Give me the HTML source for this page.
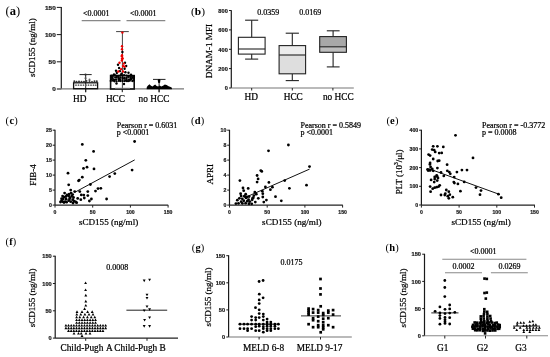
<!DOCTYPE html>
<html><head><meta charset="utf-8"><style>
html,body{margin:0;padding:0;background:#fff;}
svg{display:block;will-change:transform;}
</style></head><body>
<svg width="550" height="357" viewBox="0 0 550 357">
<rect width="550" height="357" fill="#fff"/>
<text x="5.60" y="15.22" font-family='"Liberation Serif", serif' font-size="12.5" letter-spacing="0">(<tspan font-weight="bold">a</tspan>)</text>
<line x1="61.30" y1="7.00" x2="61.30" y2="89.00" stroke="#1a1a1a" stroke-width="1.2"/>
<line x1="56.80" y1="7.40" x2="61.30" y2="7.40" stroke="#1a1a1a" stroke-width="1"/>
<text x="55.80" y="9.63" font-family='"Liberation Sans", sans-serif' font-size="6.2" font-weight="bold" text-anchor="end" fill="#1a1a1a" stroke="#1a1a1a" stroke-width="0.22" textLength="10.80" lengthAdjust="spacingAndGlyphs">150</text>
<line x1="56.80" y1="34.60" x2="61.30" y2="34.60" stroke="#1a1a1a" stroke-width="1"/>
<text x="55.80" y="36.83" font-family='"Liberation Sans", sans-serif' font-size="6.2" font-weight="bold" text-anchor="end" fill="#1a1a1a" stroke="#1a1a1a" stroke-width="0.22" textLength="10.80" lengthAdjust="spacingAndGlyphs">100</text>
<line x1="56.80" y1="61.80" x2="61.30" y2="61.80" stroke="#1a1a1a" stroke-width="1"/>
<text x="55.80" y="64.03" font-family='"Liberation Sans", sans-serif' font-size="6.2" font-weight="bold" text-anchor="end" fill="#1a1a1a" stroke="#1a1a1a" stroke-width="0.22" textLength="7.20" lengthAdjust="spacingAndGlyphs">50</text>
<line x1="56.80" y1="89.00" x2="61.30" y2="89.00" stroke="#1a1a1a" stroke-width="1"/>
<text x="55.80" y="91.23" font-family='"Liberation Sans", sans-serif' font-size="6.2" font-weight="bold" text-anchor="end" fill="#1a1a1a" stroke="#1a1a1a" stroke-width="0.22" textLength="3.60" lengthAdjust="spacingAndGlyphs">0</text>
<line x1="57.00" y1="88.90" x2="184.00" y2="88.90" stroke="#777" stroke-width="1.1"/>
<text transform="translate(32.30,47.70) rotate(-90)" x="0" y="0" font-family='"Liberation Serif", serif' font-size="9" text-anchor="middle" dominant-baseline="central" fill="#000" stroke="#000" stroke-width="0.22">sCD155 (ng/ml)</text>
<line x1="85.70" y1="89.00" x2="85.70" y2="92.20" stroke="#222" stroke-width="1"/>
<line x1="122.30" y1="89.00" x2="122.30" y2="92.20" stroke="#222" stroke-width="1"/>
<line x1="159.10" y1="89.00" x2="159.10" y2="92.20" stroke="#222" stroke-width="1"/>
<line x1="81.70" y1="20.60" x2="120.50" y2="20.60" stroke="#888" stroke-width="1.1"/>
<line x1="126.50" y1="20.60" x2="165.30" y2="20.60" stroke="#888" stroke-width="1.1"/>
<text x="83.10" y="16.20" font-family='"Liberation Serif", serif' font-size="8" font-weight="normal" text-anchor="start" fill="#000" stroke="#000" stroke-width="0.22" >&lt;0.0001</text>
<text x="130.10" y="16.20" font-family='"Liberation Serif", serif' font-size="8" font-weight="normal" text-anchor="start" fill="#000" stroke="#000" stroke-width="0.22" >&lt;0.0001</text>
<text x="73.00" y="102.00" font-family='"Liberation Serif", serif' font-size="9.3" font-weight="normal" text-anchor="start" fill="#000" stroke="#000" stroke-width="0.22" >HD</text>
<text x="105.90" y="102.00" font-family='"Liberation Serif", serif' font-size="9.3" font-weight="normal" text-anchor="start" fill="#000" stroke="#000" stroke-width="0.22" >HCC</text>
<text x="138.60" y="102.00" font-family='"Liberation Serif", serif' font-size="9.3" font-weight="normal" text-anchor="start" fill="#000" stroke="#000" stroke-width="0.22" >no HCC</text>
<text x="191.00" y="15.20" font-family='"Liberation Serif", serif' font-size="11.4" letter-spacing="0">(<tspan font-weight="bold">b</tspan>)</text>
<line x1="231.30" y1="10.30" x2="231.30" y2="88.00" stroke="#1a1a1a" stroke-width="1.2"/>
<line x1="229.00" y1="10.50" x2="231.30" y2="10.50" stroke="#1a1a1a" stroke-width="1"/>
<text x="227.80" y="12.73" font-family='"Liberation Sans", sans-serif' font-size="6.2" font-weight="bold" text-anchor="end" fill="#1a1a1a" stroke="#1a1a1a" stroke-width="0.22" textLength="9.45" lengthAdjust="spacingAndGlyphs">800</text>
<line x1="229.00" y1="29.90" x2="231.30" y2="29.90" stroke="#1a1a1a" stroke-width="1"/>
<text x="227.80" y="32.13" font-family='"Liberation Sans", sans-serif' font-size="6.2" font-weight="bold" text-anchor="end" fill="#1a1a1a" stroke="#1a1a1a" stroke-width="0.22" textLength="9.45" lengthAdjust="spacingAndGlyphs">600</text>
<line x1="229.00" y1="49.30" x2="231.30" y2="49.30" stroke="#1a1a1a" stroke-width="1"/>
<text x="227.80" y="51.53" font-family='"Liberation Sans", sans-serif' font-size="6.2" font-weight="bold" text-anchor="end" fill="#1a1a1a" stroke="#1a1a1a" stroke-width="0.22" textLength="9.45" lengthAdjust="spacingAndGlyphs">400</text>
<line x1="229.00" y1="68.60" x2="231.30" y2="68.60" stroke="#1a1a1a" stroke-width="1"/>
<text x="227.80" y="70.83" font-family='"Liberation Sans", sans-serif' font-size="6.2" font-weight="bold" text-anchor="end" fill="#1a1a1a" stroke="#1a1a1a" stroke-width="0.22" textLength="9.45" lengthAdjust="spacingAndGlyphs">200</text>
<line x1="229.00" y1="88.00" x2="231.30" y2="88.00" stroke="#1a1a1a" stroke-width="1"/>
<text x="227.80" y="90.23" font-family='"Liberation Sans", sans-serif' font-size="6.2" font-weight="bold" text-anchor="end" fill="#1a1a1a" stroke="#1a1a1a" stroke-width="0.22" textLength="3.15" lengthAdjust="spacingAndGlyphs">0</text>
<line x1="231.30" y1="88.00" x2="353.80" y2="88.00" stroke="#777" stroke-width="1.1"/>
<text transform="translate(209.20,51.00) rotate(-90)" x="0" y="0" font-family='"Liberation Serif", serif' font-size="9.2" text-anchor="middle" dominant-baseline="central" fill="#000" stroke="#000" stroke-width="0.22">DNAM-1 MFI</text>
<line x1="251.70" y1="88.00" x2="251.70" y2="90.50" stroke="#222" stroke-width="1"/>
<line x1="292.30" y1="88.00" x2="292.30" y2="90.50" stroke="#222" stroke-width="1"/>
<line x1="332.90" y1="88.00" x2="332.90" y2="90.50" stroke="#222" stroke-width="1"/>
<text x="257.20" y="15.20" font-family='"Liberation Serif", serif' font-size="8" font-weight="normal" text-anchor="start" fill="#000" stroke="#000" stroke-width="0.22" >0.0359</text>
<text x="299.30" y="15.20" font-family='"Liberation Serif", serif' font-size="8" font-weight="normal" text-anchor="start" fill="#000" stroke="#000" stroke-width="0.22" >0.0169</text>
<text x="244.50" y="99.50" font-family='"Liberation Serif", serif' font-size="9.3" font-weight="normal" text-anchor="start" fill="#000" stroke="#000" stroke-width="0.22" >HD</text>
<text x="283.70" y="99.50" font-family='"Liberation Serif", serif' font-size="9.3" font-weight="normal" text-anchor="start" fill="#000" stroke="#000" stroke-width="0.22" >HCC</text>
<text x="322.90" y="99.50" font-family='"Liberation Serif", serif' font-size="9.3" font-weight="normal" text-anchor="start" fill="#000" stroke="#000" stroke-width="0.22" >no HCC</text>
<text x="5.60" y="123.62" font-family='"Liberation Serif", serif' font-size="10.5" letter-spacing="0.3">(<tspan font-weight="bold">c</tspan>)</text>
<line x1="55.00" y1="129.80" x2="55.00" y2="205.10" stroke="#1a1a1a" stroke-width="1.2"/>
<line x1="52.70" y1="130.20" x2="55.00" y2="130.20" stroke="#1a1a1a" stroke-width="1"/>
<text x="51.80" y="132.18" font-family='"Liberation Sans", sans-serif' font-size="5.5" font-weight="bold" text-anchor="end" fill="#1a1a1a" stroke="#1a1a1a" stroke-width="0.22" textLength="5.80" lengthAdjust="spacingAndGlyphs">25</text>
<line x1="52.70" y1="145.20" x2="55.00" y2="145.20" stroke="#1a1a1a" stroke-width="1"/>
<text x="51.80" y="147.18" font-family='"Liberation Sans", sans-serif' font-size="5.5" font-weight="bold" text-anchor="end" fill="#1a1a1a" stroke="#1a1a1a" stroke-width="0.22" textLength="5.80" lengthAdjust="spacingAndGlyphs">20</text>
<line x1="52.70" y1="160.10" x2="55.00" y2="160.10" stroke="#1a1a1a" stroke-width="1"/>
<text x="51.80" y="162.08" font-family='"Liberation Sans", sans-serif' font-size="5.5" font-weight="bold" text-anchor="end" fill="#1a1a1a" stroke="#1a1a1a" stroke-width="0.22" textLength="5.80" lengthAdjust="spacingAndGlyphs">15</text>
<line x1="52.70" y1="175.10" x2="55.00" y2="175.10" stroke="#1a1a1a" stroke-width="1"/>
<text x="51.80" y="177.08" font-family='"Liberation Sans", sans-serif' font-size="5.5" font-weight="bold" text-anchor="end" fill="#1a1a1a" stroke="#1a1a1a" stroke-width="0.22" textLength="5.80" lengthAdjust="spacingAndGlyphs">10</text>
<line x1="52.70" y1="190.10" x2="55.00" y2="190.10" stroke="#1a1a1a" stroke-width="1"/>
<text x="51.80" y="192.08" font-family='"Liberation Sans", sans-serif' font-size="5.5" font-weight="bold" text-anchor="end" fill="#1a1a1a" stroke="#1a1a1a" stroke-width="0.22" textLength="2.90" lengthAdjust="spacingAndGlyphs">5</text>
<line x1="52.70" y1="205.10" x2="55.00" y2="205.10" stroke="#1a1a1a" stroke-width="1"/>
<text x="51.80" y="207.08" font-family='"Liberation Sans", sans-serif' font-size="5.5" font-weight="bold" text-anchor="end" fill="#1a1a1a" stroke="#1a1a1a" stroke-width="0.22" textLength="2.90" lengthAdjust="spacingAndGlyphs">0</text>
<line x1="55.00" y1="205.10" x2="168.20" y2="205.10" stroke="#222" stroke-width="1.2"/>
<text transform="translate(33.30,175.00) rotate(-90)" x="0" y="0" font-family='"Liberation Serif", serif' font-size="9" text-anchor="middle" dominant-baseline="central" fill="#000" stroke="#000" stroke-width="0.22">FIB-4</text>
<text x="78.90" y="225.30" font-family='"Liberation Serif", serif' font-size="9.1" font-weight="normal" text-anchor="start" fill="#000" stroke="#000" stroke-width="0.22" >sCD155 (ng/ml)</text>
<text x="116.80" y="128.00" font-family='"Liberation Serif", serif' font-size="8" font-weight="normal" text-anchor="start" fill="#000" stroke="#000" stroke-width="0.22" >Pearson r = 0.6031</text>
<text x="116.80" y="135.00" font-family='"Liberation Serif", serif' font-size="8" font-weight="normal" text-anchor="start" fill="#000" stroke="#000" stroke-width="0.22" >p &lt;0.0001</text>
<text x="190.90" y="123.62" font-family='"Liberation Serif", serif' font-size="10.5" letter-spacing="0.3">(<tspan font-weight="bold">d</tspan>)</text>
<line x1="229.50" y1="129.80" x2="229.50" y2="205.10" stroke="#1a1a1a" stroke-width="1.2"/>
<line x1="227.20" y1="130.20" x2="229.50" y2="130.20" stroke="#1a1a1a" stroke-width="1"/>
<text x="226.30" y="132.18" font-family='"Liberation Sans", sans-serif' font-size="5.5" font-weight="bold" text-anchor="end" fill="#1a1a1a" stroke="#1a1a1a" stroke-width="0.22" textLength="5.80" lengthAdjust="spacingAndGlyphs">10</text>
<line x1="227.20" y1="145.20" x2="229.50" y2="145.20" stroke="#1a1a1a" stroke-width="1"/>
<text x="226.30" y="147.18" font-family='"Liberation Sans", sans-serif' font-size="5.5" font-weight="bold" text-anchor="end" fill="#1a1a1a" stroke="#1a1a1a" stroke-width="0.22" textLength="2.90" lengthAdjust="spacingAndGlyphs">8</text>
<line x1="227.20" y1="160.10" x2="229.50" y2="160.10" stroke="#1a1a1a" stroke-width="1"/>
<text x="226.30" y="162.08" font-family='"Liberation Sans", sans-serif' font-size="5.5" font-weight="bold" text-anchor="end" fill="#1a1a1a" stroke="#1a1a1a" stroke-width="0.22" textLength="2.90" lengthAdjust="spacingAndGlyphs">6</text>
<line x1="227.20" y1="175.10" x2="229.50" y2="175.10" stroke="#1a1a1a" stroke-width="1"/>
<text x="226.30" y="177.08" font-family='"Liberation Sans", sans-serif' font-size="5.5" font-weight="bold" text-anchor="end" fill="#1a1a1a" stroke="#1a1a1a" stroke-width="0.22" textLength="2.90" lengthAdjust="spacingAndGlyphs">4</text>
<line x1="227.20" y1="190.10" x2="229.50" y2="190.10" stroke="#1a1a1a" stroke-width="1"/>
<text x="226.30" y="192.08" font-family='"Liberation Sans", sans-serif' font-size="5.5" font-weight="bold" text-anchor="end" fill="#1a1a1a" stroke="#1a1a1a" stroke-width="0.22" textLength="2.90" lengthAdjust="spacingAndGlyphs">2</text>
<line x1="227.20" y1="205.10" x2="229.50" y2="205.10" stroke="#1a1a1a" stroke-width="1"/>
<text x="226.30" y="207.08" font-family='"Liberation Sans", sans-serif' font-size="5.5" font-weight="bold" text-anchor="end" fill="#1a1a1a" stroke="#1a1a1a" stroke-width="0.22" textLength="2.90" lengthAdjust="spacingAndGlyphs">0</text>
<line x1="229.50" y1="205.10" x2="342.80" y2="205.10" stroke="#222" stroke-width="1.2"/>
<text transform="translate(210.30,174.20) rotate(-90)" x="0" y="0" font-family='"Liberation Serif", serif' font-size="9" text-anchor="middle" dominant-baseline="central" fill="#000" stroke="#000" stroke-width="0.22">APRI</text>
<text x="262.10" y="225.30" font-family='"Liberation Serif", serif' font-size="9.1" font-weight="normal" text-anchor="start" fill="#000" stroke="#000" stroke-width="0.22" >sCD155 (ng/ml)</text>
<text x="300.50" y="128.00" font-family='"Liberation Serif", serif' font-size="8" font-weight="normal" text-anchor="start" fill="#000" stroke="#000" stroke-width="0.22" >Pearson r = 0.5849</text>
<text x="300.50" y="135.00" font-family='"Liberation Serif", serif' font-size="8" font-weight="normal" text-anchor="start" fill="#000" stroke="#000" stroke-width="0.22" >p &lt;0.0001</text>
<text x="386.40" y="123.53" font-family='"Liberation Serif", serif' font-size="10.5" letter-spacing="0.2">(<tspan font-weight="bold">e</tspan>)</text>
<line x1="421.40" y1="129.80" x2="421.40" y2="205.10" stroke="#1a1a1a" stroke-width="1.2"/>
<line x1="419.10" y1="130.20" x2="421.40" y2="130.20" stroke="#1a1a1a" stroke-width="1"/>
<text x="418.20" y="132.18" font-family='"Liberation Sans", sans-serif' font-size="5.5" font-weight="bold" text-anchor="end" fill="#1a1a1a" stroke="#1a1a1a" stroke-width="0.22" textLength="8.70" lengthAdjust="spacingAndGlyphs">400</text>
<line x1="419.10" y1="148.90" x2="421.40" y2="148.90" stroke="#1a1a1a" stroke-width="1"/>
<text x="418.20" y="150.88" font-family='"Liberation Sans", sans-serif' font-size="5.5" font-weight="bold" text-anchor="end" fill="#1a1a1a" stroke="#1a1a1a" stroke-width="0.22" textLength="8.70" lengthAdjust="spacingAndGlyphs">300</text>
<line x1="419.10" y1="167.60" x2="421.40" y2="167.60" stroke="#1a1a1a" stroke-width="1"/>
<text x="418.20" y="169.58" font-family='"Liberation Sans", sans-serif' font-size="5.5" font-weight="bold" text-anchor="end" fill="#1a1a1a" stroke="#1a1a1a" stroke-width="0.22" textLength="8.70" lengthAdjust="spacingAndGlyphs">200</text>
<line x1="419.10" y1="186.30" x2="421.40" y2="186.30" stroke="#1a1a1a" stroke-width="1"/>
<text x="418.20" y="188.28" font-family='"Liberation Sans", sans-serif' font-size="5.5" font-weight="bold" text-anchor="end" fill="#1a1a1a" stroke="#1a1a1a" stroke-width="0.22" textLength="8.70" lengthAdjust="spacingAndGlyphs">100</text>
<line x1="419.10" y1="205.00" x2="421.40" y2="205.00" stroke="#1a1a1a" stroke-width="1"/>
<text x="418.20" y="206.98" font-family='"Liberation Sans", sans-serif' font-size="5.5" font-weight="bold" text-anchor="end" fill="#1a1a1a" stroke="#1a1a1a" stroke-width="0.22" textLength="2.90" lengthAdjust="spacingAndGlyphs">0</text>
<line x1="421.40" y1="205.10" x2="534.90" y2="205.10" stroke="#222" stroke-width="1.2"/>
<text transform="translate(399.4,171.8) rotate(-90)" x="0" y="0" font-family='"Liberation Serif", serif' font-size="9" text-anchor="middle" dominant-baseline="central" stroke="#000" stroke-width="0.22">PLT (10<tspan font-size="5.5" dy="-3">3</tspan><tspan dy="3">/μl)</tspan></text>
<text x="451.50" y="225.30" font-family='"Liberation Serif", serif' font-size="9.1" font-weight="normal" text-anchor="start" fill="#000" stroke="#000" stroke-width="0.22" >sCD155 (ng/ml)</text>
<text x="482.00" y="128.00" font-family='"Liberation Serif", serif' font-size="8" font-weight="normal" text-anchor="start" fill="#000" stroke="#000" stroke-width="0.22" >Pearson r = -0.3772</text>
<text x="482.00" y="135.00" font-family='"Liberation Serif", serif' font-size="8" font-weight="normal" text-anchor="start" fill="#000" stroke="#000" stroke-width="0.22" >p = 0.0008</text>
<line x1="55.00" y1="205.10" x2="55.00" y2="207.60" stroke="#222" stroke-width="1"/>
<text x="55.00" y="213.50" font-family='"Liberation Sans", sans-serif' font-size="5.5" font-weight="bold" text-anchor="middle" fill="#1a1a1a" stroke="#1a1a1a" stroke-width="0.22" textLength="2.85" lengthAdjust="spacingAndGlyphs">0</text>
<line x1="92.70" y1="205.10" x2="92.70" y2="207.60" stroke="#222" stroke-width="1"/>
<text x="92.70" y="213.50" font-family='"Liberation Sans", sans-serif' font-size="5.5" font-weight="bold" text-anchor="middle" fill="#1a1a1a" stroke="#1a1a1a" stroke-width="0.22" textLength="5.70" lengthAdjust="spacingAndGlyphs">50</text>
<line x1="130.40" y1="205.10" x2="130.40" y2="207.60" stroke="#222" stroke-width="1"/>
<text x="130.40" y="213.50" font-family='"Liberation Sans", sans-serif' font-size="5.5" font-weight="bold" text-anchor="middle" fill="#1a1a1a" stroke="#1a1a1a" stroke-width="0.22" textLength="8.55" lengthAdjust="spacingAndGlyphs">100</text>
<line x1="168.10" y1="205.10" x2="168.10" y2="207.60" stroke="#222" stroke-width="1"/>
<text x="168.10" y="213.50" font-family='"Liberation Sans", sans-serif' font-size="5.5" font-weight="bold" text-anchor="middle" fill="#1a1a1a" stroke="#1a1a1a" stroke-width="0.22" textLength="8.55" lengthAdjust="spacingAndGlyphs">150</text>
<line x1="229.50" y1="205.10" x2="229.50" y2="207.60" stroke="#222" stroke-width="1"/>
<text x="229.50" y="213.50" font-family='"Liberation Sans", sans-serif' font-size="5.5" font-weight="bold" text-anchor="middle" fill="#1a1a1a" stroke="#1a1a1a" stroke-width="0.22" textLength="2.85" lengthAdjust="spacingAndGlyphs">0</text>
<line x1="267.20" y1="205.10" x2="267.20" y2="207.60" stroke="#222" stroke-width="1"/>
<text x="267.20" y="213.50" font-family='"Liberation Sans", sans-serif' font-size="5.5" font-weight="bold" text-anchor="middle" fill="#1a1a1a" stroke="#1a1a1a" stroke-width="0.22" textLength="5.70" lengthAdjust="spacingAndGlyphs">50</text>
<line x1="304.90" y1="205.10" x2="304.90" y2="207.60" stroke="#222" stroke-width="1"/>
<text x="304.90" y="213.50" font-family='"Liberation Sans", sans-serif' font-size="5.5" font-weight="bold" text-anchor="middle" fill="#1a1a1a" stroke="#1a1a1a" stroke-width="0.22" textLength="8.55" lengthAdjust="spacingAndGlyphs">100</text>
<line x1="342.60" y1="205.10" x2="342.60" y2="207.60" stroke="#222" stroke-width="1"/>
<text x="342.60" y="213.50" font-family='"Liberation Sans", sans-serif' font-size="5.5" font-weight="bold" text-anchor="middle" fill="#1a1a1a" stroke="#1a1a1a" stroke-width="0.22" textLength="8.55" lengthAdjust="spacingAndGlyphs">150</text>
<line x1="421.40" y1="205.10" x2="421.40" y2="207.60" stroke="#222" stroke-width="1"/>
<text x="421.40" y="213.50" font-family='"Liberation Sans", sans-serif' font-size="5.5" font-weight="bold" text-anchor="middle" fill="#1a1a1a" stroke="#1a1a1a" stroke-width="0.22" textLength="2.85" lengthAdjust="spacingAndGlyphs">0</text>
<line x1="459.10" y1="205.10" x2="459.10" y2="207.60" stroke="#222" stroke-width="1"/>
<text x="459.10" y="213.50" font-family='"Liberation Sans", sans-serif' font-size="5.5" font-weight="bold" text-anchor="middle" fill="#1a1a1a" stroke="#1a1a1a" stroke-width="0.22" textLength="5.70" lengthAdjust="spacingAndGlyphs">50</text>
<line x1="496.80" y1="205.10" x2="496.80" y2="207.60" stroke="#222" stroke-width="1"/>
<text x="496.80" y="213.50" font-family='"Liberation Sans", sans-serif' font-size="5.5" font-weight="bold" text-anchor="middle" fill="#1a1a1a" stroke="#1a1a1a" stroke-width="0.22" textLength="8.55" lengthAdjust="spacingAndGlyphs">100</text>
<line x1="534.50" y1="205.10" x2="534.50" y2="207.60" stroke="#222" stroke-width="1"/>
<text x="534.50" y="213.50" font-family='"Liberation Sans", sans-serif' font-size="5.5" font-weight="bold" text-anchor="middle" fill="#1a1a1a" stroke="#1a1a1a" stroke-width="0.22" textLength="8.55" lengthAdjust="spacingAndGlyphs">150</text>
<text x="5.60" y="245.07" font-family='"Liberation Serif", serif' font-size="10.3" letter-spacing="0.1">(<tspan font-weight="bold">f</tspan>)</text>
<line x1="55.20" y1="255.80" x2="55.20" y2="338.20" stroke="#1a1a1a" stroke-width="1.2"/>
<line x1="52.90" y1="256.20" x2="55.20" y2="256.20" stroke="#1a1a1a" stroke-width="1"/>
<text x="51.70" y="258.43" font-family='"Liberation Sans", sans-serif' font-size="6.2" font-weight="bold" text-anchor="end" fill="#1a1a1a" stroke="#1a1a1a" stroke-width="0.22" textLength="9.45" lengthAdjust="spacingAndGlyphs">150</text>
<line x1="52.90" y1="283.50" x2="55.20" y2="283.50" stroke="#1a1a1a" stroke-width="1"/>
<text x="51.70" y="285.73" font-family='"Liberation Sans", sans-serif' font-size="6.2" font-weight="bold" text-anchor="end" fill="#1a1a1a" stroke="#1a1a1a" stroke-width="0.22" textLength="9.45" lengthAdjust="spacingAndGlyphs">100</text>
<line x1="52.90" y1="310.80" x2="55.20" y2="310.80" stroke="#1a1a1a" stroke-width="1"/>
<text x="51.70" y="313.03" font-family='"Liberation Sans", sans-serif' font-size="6.2" font-weight="bold" text-anchor="end" fill="#1a1a1a" stroke="#1a1a1a" stroke-width="0.22" textLength="6.30" lengthAdjust="spacingAndGlyphs">50</text>
<line x1="52.90" y1="338.10" x2="55.20" y2="338.10" stroke="#1a1a1a" stroke-width="1"/>
<text x="51.70" y="340.33" font-family='"Liberation Sans", sans-serif' font-size="6.2" font-weight="bold" text-anchor="end" fill="#1a1a1a" stroke="#1a1a1a" stroke-width="0.22" textLength="3.15" lengthAdjust="spacingAndGlyphs">0</text>
<line x1="55.20" y1="338.20" x2="178.00" y2="338.20" stroke="#222" stroke-width="1.2"/>
<text transform="translate(32.30,297.80) rotate(-90)" x="0" y="0" font-family='"Liberation Serif", serif' font-size="9" text-anchor="middle" dominant-baseline="central" fill="#000" stroke="#000" stroke-width="0.22">sCD155 (ng/ml)</text>
<line x1="85.70" y1="338.10" x2="85.70" y2="340.80" stroke="#222" stroke-width="1"/>
<line x1="147.00" y1="338.10" x2="147.00" y2="340.80" stroke="#222" stroke-width="1"/>
<text x="106.20" y="269.80" font-family='"Liberation Serif", serif' font-size="8" font-weight="normal" text-anchor="start" fill="#000" stroke="#000" stroke-width="0.22" >0.0008</text>
<text x="60.50" y="351.00" font-family='"Liberation Serif", serif' font-size="9.3" font-weight="normal" text-anchor="start" fill="#000" stroke="#000" stroke-width="0.22" >Child-Pugh</text>
<text x="106.00" y="351.00" font-family='"Liberation Serif", serif' font-size="9.3" font-weight="normal" text-anchor="start" fill="#000" stroke="#000" stroke-width="0.22" >A</text>
<text x="114.30" y="351.00" font-family='"Liberation Serif", serif' font-size="9.3" font-weight="normal" text-anchor="start" fill="#000" stroke="#000" stroke-width="0.22" >Child-Pugh B</text>
<line x1="126.40" y1="310.20" x2="167.20" y2="310.20" stroke="#222" stroke-width="1"/>
<text x="191.70" y="251.12" font-family='"Liberation Serif", serif' font-size="10.5" letter-spacing="0.2">(<tspan font-weight="bold">g</tspan>)</text>
<line x1="228.60" y1="255.30" x2="228.60" y2="337.00" stroke="#1a1a1a" stroke-width="1.2"/>
<line x1="226.30" y1="255.70" x2="228.60" y2="255.70" stroke="#1a1a1a" stroke-width="1"/>
<text x="225.10" y="257.93" font-family='"Liberation Sans", sans-serif' font-size="6.2" font-weight="bold" text-anchor="end" fill="#1a1a1a" stroke="#1a1a1a" stroke-width="0.22" textLength="9.45" lengthAdjust="spacingAndGlyphs">150</text>
<line x1="226.30" y1="282.80" x2="228.60" y2="282.80" stroke="#1a1a1a" stroke-width="1"/>
<text x="225.10" y="285.03" font-family='"Liberation Sans", sans-serif' font-size="6.2" font-weight="bold" text-anchor="end" fill="#1a1a1a" stroke="#1a1a1a" stroke-width="0.22" textLength="9.45" lengthAdjust="spacingAndGlyphs">100</text>
<line x1="226.30" y1="309.90" x2="228.60" y2="309.90" stroke="#1a1a1a" stroke-width="1"/>
<text x="225.10" y="312.13" font-family='"Liberation Sans", sans-serif' font-size="6.2" font-weight="bold" text-anchor="end" fill="#1a1a1a" stroke="#1a1a1a" stroke-width="0.22" textLength="6.30" lengthAdjust="spacingAndGlyphs">50</text>
<line x1="226.30" y1="337.00" x2="228.60" y2="337.00" stroke="#1a1a1a" stroke-width="1"/>
<text x="225.10" y="339.23" font-family='"Liberation Sans", sans-serif' font-size="6.2" font-weight="bold" text-anchor="end" fill="#1a1a1a" stroke="#1a1a1a" stroke-width="0.22" textLength="3.15" lengthAdjust="spacingAndGlyphs">0</text>
<line x1="228.60" y1="337.00" x2="351.80" y2="337.00" stroke="#777" stroke-width="1.1"/>
<text transform="translate(208.30,297.00) rotate(-90)" x="0" y="0" font-family='"Liberation Serif", serif' font-size="9" text-anchor="middle" dominant-baseline="central" fill="#000" stroke="#000" stroke-width="0.22">sCD155 (ng/ml)</text>
<line x1="259.10" y1="337.00" x2="259.10" y2="339.50" stroke="#222" stroke-width="1"/>
<line x1="320.50" y1="337.00" x2="320.50" y2="339.50" stroke="#222" stroke-width="1"/>
<text x="280.50" y="265.40" font-family='"Liberation Serif", serif' font-size="8" font-weight="normal" text-anchor="start" fill="#000" stroke="#000" stroke-width="0.22" >0.0175</text>
<text x="243.00" y="351.00" font-family='"Liberation Serif", serif' font-size="9.3" font-weight="normal" text-anchor="start" fill="#000" stroke="#000" stroke-width="0.22" >MELD 6-8</text>
<text x="296.70" y="351.00" font-family='"Liberation Serif", serif' font-size="9.3" font-weight="normal" text-anchor="start" fill="#000" stroke="#000" stroke-width="0.22" >MELD 9-17</text>
<line x1="238.50" y1="324.10" x2="278.90" y2="324.10" stroke="#222" stroke-width="1"/>
<line x1="301.00" y1="315.90" x2="341.00" y2="315.90" stroke="#333" stroke-width="1"/>
<text x="385.60" y="251.22" font-family='"Liberation Serif", serif' font-size="10.5" letter-spacing="0.1">(<tspan font-weight="bold">h</tspan>)</text>
<line x1="424.50" y1="253.80" x2="424.50" y2="335.90" stroke="#1a1a1a" stroke-width="1.2"/>
<line x1="422.20" y1="254.20" x2="424.50" y2="254.20" stroke="#1a1a1a" stroke-width="1"/>
<text x="421.00" y="256.43" font-family='"Liberation Sans", sans-serif' font-size="6.2" font-weight="bold" text-anchor="end" fill="#1a1a1a" stroke="#1a1a1a" stroke-width="0.22" textLength="9.45" lengthAdjust="spacingAndGlyphs">150</text>
<line x1="422.20" y1="281.40" x2="424.50" y2="281.40" stroke="#1a1a1a" stroke-width="1"/>
<text x="421.00" y="283.63" font-family='"Liberation Sans", sans-serif' font-size="6.2" font-weight="bold" text-anchor="end" fill="#1a1a1a" stroke="#1a1a1a" stroke-width="0.22" textLength="9.45" lengthAdjust="spacingAndGlyphs">100</text>
<line x1="422.20" y1="308.60" x2="424.50" y2="308.60" stroke="#1a1a1a" stroke-width="1"/>
<text x="421.00" y="310.83" font-family='"Liberation Sans", sans-serif' font-size="6.2" font-weight="bold" text-anchor="end" fill="#1a1a1a" stroke="#1a1a1a" stroke-width="0.22" textLength="6.30" lengthAdjust="spacingAndGlyphs">50</text>
<line x1="422.20" y1="335.80" x2="424.50" y2="335.80" stroke="#1a1a1a" stroke-width="1"/>
<text x="421.00" y="338.03" font-family='"Liberation Sans", sans-serif' font-size="6.2" font-weight="bold" text-anchor="end" fill="#1a1a1a" stroke="#1a1a1a" stroke-width="0.22" textLength="3.15" lengthAdjust="spacingAndGlyphs">0</text>
<line x1="424.50" y1="335.70" x2="548.00" y2="335.70" stroke="#888" stroke-width="1.1"/>
<text transform="translate(402.80,298.00) rotate(-90)" x="0" y="0" font-family='"Liberation Serif", serif' font-size="9" text-anchor="middle" dominant-baseline="central" fill="#000" stroke="#000" stroke-width="0.22">sCD155 (ng/ml)</text>
<line x1="444.80" y1="335.70" x2="444.80" y2="338.50" stroke="#222" stroke-width="1"/>
<line x1="485.50" y1="335.70" x2="485.50" y2="338.50" stroke="#222" stroke-width="1"/>
<line x1="526.80" y1="335.70" x2="526.80" y2="338.50" stroke="#222" stroke-width="1"/>
<text x="469.90" y="254.00" font-family='"Liberation Serif", serif' font-size="8" font-weight="normal" text-anchor="start" fill="#000" stroke="#000" stroke-width="0.22" >&lt;0.0001</text>
<line x1="442.30" y1="259.30" x2="526.40" y2="259.30" stroke="#888" stroke-width="1.1"/>
<text x="452.50" y="269.10" font-family='"Liberation Serif", serif' font-size="8" font-weight="normal" text-anchor="start" fill="#000" stroke="#000" stroke-width="0.22" >0.0002</text>
<text x="498.50" y="269.10" font-family='"Liberation Serif", serif' font-size="8" font-weight="normal" text-anchor="start" fill="#000" stroke="#000" stroke-width="0.22" >0.0269</text>
<line x1="445.00" y1="272.80" x2="482.00" y2="272.80" stroke="#888" stroke-width="1.1"/>
<line x1="490.90" y1="272.80" x2="527.80" y2="272.80" stroke="#888" stroke-width="1.1"/>
<text x="437.10" y="351.00" font-family='"Liberation Serif", serif' font-size="9.3" font-weight="normal" text-anchor="start" fill="#000" stroke="#000" stroke-width="0.22" >G1</text>
<text x="476.80" y="351.00" font-family='"Liberation Serif", serif' font-size="9.3" font-weight="normal" text-anchor="start" fill="#000" stroke="#000" stroke-width="0.22" >G2</text>
<text x="515.30" y="351.00" font-family='"Liberation Serif", serif' font-size="9.3" font-weight="normal" text-anchor="start" fill="#000" stroke="#000" stroke-width="0.22" >G3</text>
<line x1="431.30" y1="312.90" x2="458.50" y2="312.90" stroke="#222" stroke-width="1"/>
<line x1="513.00" y1="326.10" x2="540.00" y2="326.10" stroke="#222" stroke-width="1"/>
<line x1="85.70" y1="74.60" x2="85.70" y2="92.20" stroke="#222" stroke-width="1"/>
<line x1="79.50" y1="74.60" x2="91.70" y2="74.60" stroke="#222" stroke-width="1"/>
<rect x="73.60" y="82.80" width="24.00" height="5.90" stroke="#111" fill="none" stroke-width="1.3"/>
<circle cx="74.30" cy="81.29" r="1.0" fill="#333"/>
<circle cx="76.50" cy="81.65" r="1.0" fill="#333"/>
<circle cx="79.00" cy="81.44" r="1.0" fill="#333"/>
<circle cx="81.50" cy="81.72" r="1.0" fill="#333"/>
<circle cx="84.00" cy="81.75" r="1.0" fill="#333"/>
<circle cx="86.50" cy="81.08" r="1.0" fill="#333"/>
<circle cx="89.50" cy="81.02" r="1.0" fill="#333"/>
<circle cx="92.00" cy="82.00" r="1.0" fill="#333"/>
<circle cx="94.50" cy="81.31" r="1.0" fill="#333"/>
<circle cx="96.80" cy="81.28" r="1.0" fill="#333"/>
<circle cx="76.00" cy="85.20" r="0.9" fill="#666"/>
<circle cx="78.50" cy="85.20" r="0.9" fill="#666"/>
<circle cx="81.00" cy="85.20" r="0.9" fill="#666"/>
<circle cx="83.50" cy="85.20" r="0.9" fill="#666"/>
<circle cx="86.00" cy="85.20" r="0.9" fill="#666"/>
<circle cx="88.50" cy="85.20" r="0.9" fill="#666"/>
<circle cx="91.00" cy="85.20" r="0.9" fill="#666"/>
<circle cx="93.50" cy="85.20" r="0.9" fill="#666"/>
<circle cx="95.80" cy="85.20" r="0.9" fill="#666"/>
<circle cx="85.50" cy="78.20" r="1.0" fill="#555"/>
<circle cx="85.50" cy="74.60" r="1.1" fill="#333"/>
<circle cx="89.50" cy="79.60" r="1.0" fill="#666"/>
<line x1="122.40" y1="31.60" x2="122.40" y2="91.50" stroke="#444" stroke-width="1"/>
<line x1="116.10" y1="31.60" x2="128.80" y2="31.60" stroke="#444" stroke-width="1"/>
<rect x="110.60" y="75.60" width="23.60" height="13.40" stroke="#111" fill="none" stroke-width="1.6"/>
<line x1="115.00" y1="88.20" x2="130.00" y2="88.20" stroke="#999" stroke-width="0.8"/>
<circle cx="122.40" cy="52.00" r="1.2" fill="#000"/>
<circle cx="125.00" cy="62.80" r="1.2" fill="#000"/>
<circle cx="118.00" cy="64.80" r="1.2" fill="#000"/>
<circle cx="126.20" cy="66.00" r="1.2" fill="#000"/>
<circle cx="119.10" cy="68.00" r="1.2" fill="#000"/>
<circle cx="124.60" cy="68.70" r="1.2" fill="#000"/>
<circle cx="116.00" cy="70.70" r="1.2" fill="#000"/>
<circle cx="119.90" cy="71.10" r="1.2" fill="#000"/>
<circle cx="128.50" cy="72.70" r="1.2" fill="#000"/>
<circle cx="116.80" cy="73.00" r="1.2" fill="#000"/>
<circle cx="125.40" cy="72.30" r="1.2" fill="#000"/>
<circle cx="121.50" cy="73.80" r="1.2" fill="#000"/>
<circle cx="114.00" cy="74.50" r="1.2" fill="#000"/>
<circle cx="131.00" cy="74.80" r="1.2" fill="#000"/>
<circle cx="111.40" cy="75.57" r="1.15" fill="#000"/>
<circle cx="113.17" cy="75.58" r="1.15" fill="#000"/>
<circle cx="114.91" cy="75.25" r="1.15" fill="#000"/>
<circle cx="116.81" cy="75.97" r="1.15" fill="#000"/>
<circle cx="118.62" cy="75.84" r="1.15" fill="#000"/>
<circle cx="120.64" cy="75.16" r="1.15" fill="#000"/>
<circle cx="122.61" cy="75.69" r="1.15" fill="#000"/>
<circle cx="124.14" cy="75.13" r="1.15" fill="#000"/>
<circle cx="126.49" cy="75.57" r="1.15" fill="#000"/>
<circle cx="128.28" cy="75.98" r="1.15" fill="#000"/>
<circle cx="130.17" cy="76.02" r="1.15" fill="#000"/>
<circle cx="131.82" cy="75.90" r="1.15" fill="#000"/>
<circle cx="133.76" cy="76.04" r="1.15" fill="#000"/>
<circle cx="111.30" cy="77.00" r="1.15" fill="#000"/>
<circle cx="112.61" cy="77.12" r="1.15" fill="#000"/>
<circle cx="115.17" cy="77.34" r="1.15" fill="#000"/>
<circle cx="116.80" cy="77.20" r="1.15" fill="#000"/>
<circle cx="118.61" cy="77.29" r="1.15" fill="#000"/>
<circle cx="120.38" cy="77.49" r="1.15" fill="#000"/>
<circle cx="122.47" cy="77.80" r="1.15" fill="#000"/>
<circle cx="124.45" cy="77.83" r="1.15" fill="#000"/>
<circle cx="126.49" cy="77.89" r="1.15" fill="#000"/>
<circle cx="128.24" cy="77.06" r="1.15" fill="#000"/>
<circle cx="130.29" cy="77.86" r="1.15" fill="#000"/>
<circle cx="132.22" cy="77.47" r="1.15" fill="#000"/>
<circle cx="133.97" cy="77.11" r="1.15" fill="#000"/>
<circle cx="111.27" cy="79.27" r="1.15" fill="#000"/>
<circle cx="112.73" cy="78.76" r="1.15" fill="#000"/>
<circle cx="115.08" cy="79.69" r="1.15" fill="#000"/>
<circle cx="116.37" cy="79.50" r="1.15" fill="#000"/>
<circle cx="118.53" cy="78.85" r="1.15" fill="#000"/>
<circle cx="120.34" cy="79.47" r="1.15" fill="#000"/>
<circle cx="122.70" cy="78.74" r="1.15" fill="#000"/>
<circle cx="124.39" cy="78.74" r="1.15" fill="#000"/>
<circle cx="126.37" cy="79.03" r="1.15" fill="#000"/>
<circle cx="128.40" cy="79.68" r="1.15" fill="#000"/>
<circle cx="130.00" cy="79.70" r="1.15" fill="#000"/>
<circle cx="131.75" cy="78.78" r="1.15" fill="#000"/>
<circle cx="133.88" cy="78.73" r="1.15" fill="#000"/>
<circle cx="110.76" cy="80.91" r="1.15" fill="#000"/>
<circle cx="112.99" cy="80.66" r="1.15" fill="#000"/>
<circle cx="114.43" cy="81.37" r="1.15" fill="#000"/>
<circle cx="116.55" cy="81.46" r="1.15" fill="#000"/>
<circle cx="118.92" cy="80.88" r="1.15" fill="#000"/>
<circle cx="120.47" cy="81.02" r="1.15" fill="#000"/>
<circle cx="122.52" cy="81.10" r="1.15" fill="#000"/>
<circle cx="124.35" cy="81.12" r="1.15" fill="#000"/>
<circle cx="126.55" cy="81.01" r="1.15" fill="#000"/>
<circle cx="128.04" cy="81.22" r="1.15" fill="#000"/>
<circle cx="129.79" cy="80.80" r="1.15" fill="#000"/>
<circle cx="132.28" cy="81.02" r="1.15" fill="#000"/>
<circle cx="133.84" cy="80.51" r="1.15" fill="#000"/>
<circle cx="114.00" cy="80.00" r="1.2" fill="#000"/>
<circle cx="119.00" cy="79.00" r="1.2" fill="#000"/>
<circle cx="126.00" cy="80.50" r="1.2" fill="#000"/>
<circle cx="131.00" cy="79.00" r="1.2" fill="#000"/>
<circle cx="116.50" cy="83.50" r="1.2" fill="#000"/>
<circle cx="124.00" cy="84.00" r="1.2" fill="#000"/>
<circle cx="122.40" cy="32.60" r="1.2" fill="#e00"/>
<circle cx="122.00" cy="46.20" r="1.2" fill="#e00"/>
<circle cx="122.00" cy="49.20" r="1.2" fill="#e00"/>
<circle cx="122.00" cy="55.30" r="1.2" fill="#e00"/>
<circle cx="122.00" cy="58.80" r="1.2" fill="#e00"/>
<circle cx="121.90" cy="56.20" r="1.2" fill="#e00"/>
<circle cx="122.70" cy="58.50" r="1.2" fill="#e00"/>
<circle cx="121.90" cy="60.50" r="1.2" fill="#e00"/>
<circle cx="119.50" cy="62.80" r="1.2" fill="#e00"/>
<circle cx="123.80" cy="63.60" r="1.2" fill="#e00"/>
<circle cx="123.00" cy="66.00" r="1.2" fill="#e00"/>
<circle cx="124.60" cy="66.80" r="1.2" fill="#e00"/>
<circle cx="121.10" cy="69.10" r="1.2" fill="#e00"/>
<circle cx="118.30" cy="71.50" r="1.2" fill="#e00"/>
<circle cx="123.00" cy="71.50" r="1.2" fill="#e00"/>
<line x1="159.10" y1="79.40" x2="159.10" y2="92.30" stroke="#222" stroke-width="1"/>
<line x1="153.00" y1="79.40" x2="165.50" y2="79.40" stroke="#222" stroke-width="1"/>
<circle cx="159.10" cy="80.20" r="1.2" fill="#000"/>
<circle cx="159.10" cy="81.80" r="1.2" fill="#000"/>
<path d="M146.6,89.2 L146.8,87.0 L148.0,85.6 L149.5,84.3 L151.0,85.8 L152.6,86.6 L154.0,85.3 L155.2,84.6 L156.6,85.9 L158.2,86.4 L159.8,85.4 L161.2,86.6 L163.0,85.8 L164.8,84.5 L166.6,85.0 L168.6,86.2 L170.6,86.9 L171.9,87.8 L171.9,89.2 Z" fill="#000"/>
<line x1="251.70" y1="20.20" x2="251.70" y2="37.30" stroke="#222" stroke-width="1.1"/>
<line x1="251.70" y1="54.10" x2="251.70" y2="59.10" stroke="#222" stroke-width="1.1"/>
<line x1="245.10" y1="20.20" x2="258.20" y2="20.20" stroke="#222" stroke-width="1.1"/>
<line x1="245.10" y1="59.10" x2="258.20" y2="59.10" stroke="#222" stroke-width="1.1"/>
<rect x="238.4" y="37.3" width="26.700000000000017" height="11.700000000000003" fill="#fff"/>
<rect x="238.4" y="49.0" width="26.700000000000017" height="5.100000000000001" fill="#fff"/>
<rect x="238.40" y="37.30" width="26.70" height="16.80" stroke="#222" fill="none" stroke-width="1.1"/>
<line x1="238.40" y1="49.00" x2="265.10" y2="49.00" stroke="#222" stroke-width="1.1"/>
<line x1="292.30" y1="33.20" x2="292.30" y2="45.60" stroke="#222" stroke-width="1.1"/>
<line x1="292.30" y1="73.80" x2="292.30" y2="80.60" stroke="#222" stroke-width="1.1"/>
<line x1="285.70" y1="33.20" x2="298.90" y2="33.20" stroke="#222" stroke-width="1.1"/>
<line x1="285.70" y1="80.60" x2="298.90" y2="80.60" stroke="#222" stroke-width="1.1"/>
<rect x="279.1" y="45.6" width="26.5" height="9.399999999999999" fill="#ececec"/>
<rect x="279.1" y="55.0" width="26.5" height="18.799999999999997" fill="#dedede"/>
<rect x="279.10" y="45.60" width="26.50" height="28.20" stroke="#222" fill="none" stroke-width="1.1"/>
<line x1="279.10" y1="55.00" x2="305.60" y2="55.00" stroke="#222" stroke-width="1.1"/>
<line x1="333.10" y1="30.80" x2="333.10" y2="36.60" stroke="#222" stroke-width="1.1"/>
<line x1="333.10" y1="52.30" x2="333.10" y2="66.90" stroke="#222" stroke-width="1.1"/>
<line x1="326.80" y1="30.80" x2="339.60" y2="30.80" stroke="#222" stroke-width="1.1"/>
<line x1="326.80" y1="66.90" x2="339.60" y2="66.90" stroke="#222" stroke-width="1.1"/>
<rect x="319.7" y="36.6" width="26.69999999999999" height="10.199999999999996" fill="#a8a8a8"/>
<rect x="319.7" y="46.8" width="26.69999999999999" height="5.5" fill="#bdbdbd"/>
<rect x="319.70" y="36.60" width="26.70" height="15.70" stroke="#222" fill="none" stroke-width="1.1"/>
<line x1="319.70" y1="46.80" x2="346.40" y2="46.80" stroke="#222" stroke-width="1.1"/>
<line x1="75.20" y1="192.10" x2="134.70" y2="159.90" stroke="#111" stroke-width="1.0"/>
<circle cx="82.30" cy="144.40" r="1.4" fill="#000"/>
<circle cx="93.60" cy="151.40" r="1.4" fill="#000"/>
<circle cx="85.80" cy="160.30" r="1.4" fill="#000"/>
<circle cx="87.00" cy="167.20" r="1.4" fill="#000"/>
<circle cx="83.50" cy="168.40" r="1.4" fill="#000"/>
<circle cx="94.00" cy="168.90" r="1.4" fill="#000"/>
<circle cx="68.00" cy="173.20" r="1.4" fill="#000"/>
<circle cx="82.30" cy="177.20" r="1.4" fill="#000"/>
<circle cx="79.30" cy="180.10" r="1.4" fill="#000"/>
<circle cx="78.50" cy="180.80" r="1.4" fill="#000"/>
<circle cx="68.70" cy="184.80" r="1.4" fill="#000"/>
<circle cx="134.60" cy="141.50" r="1.4" fill="#000"/>
<circle cx="132.10" cy="170.10" r="1.4" fill="#000"/>
<circle cx="114.80" cy="173.60" r="1.4" fill="#000"/>
<circle cx="109.60" cy="176.60" r="1.4" fill="#000"/>
<circle cx="100.80" cy="188.30" r="1.4" fill="#000"/>
<circle cx="98.00" cy="188.60" r="1.4" fill="#000"/>
<circle cx="95.50" cy="191.10" r="1.4" fill="#000"/>
<circle cx="106.60" cy="199.00" r="1.4" fill="#000"/>
<circle cx="90.40" cy="184.50" r="1.4" fill="#000"/>
<circle cx="70.70" cy="190.10" r="1.4" fill="#000"/>
<circle cx="74.70" cy="191.60" r="1.4" fill="#000"/>
<circle cx="79.80" cy="191.60" r="1.4" fill="#000"/>
<circle cx="87.80" cy="191.60" r="1.4" fill="#000"/>
<circle cx="81.30" cy="194.90" r="1.4" fill="#000"/>
<circle cx="83.80" cy="195.10" r="1.4" fill="#000"/>
<circle cx="87.80" cy="195.60" r="1.4" fill="#000"/>
<circle cx="84.30" cy="198.00" r="1.4" fill="#000"/>
<circle cx="77.70" cy="198.40" r="1.4" fill="#000"/>
<circle cx="80.80" cy="199.70" r="1.4" fill="#000"/>
<circle cx="91.40" cy="199.00" r="1.4" fill="#000"/>
<circle cx="89.40" cy="201.00" r="1.4" fill="#000"/>
<circle cx="61.60" cy="198.70" r="1.4" fill="#000"/>
<circle cx="61.60" cy="200.70" r="1.4" fill="#000"/>
<circle cx="62.60" cy="196.10" r="1.4" fill="#000"/>
<circle cx="64.60" cy="193.10" r="1.4" fill="#000"/>
<circle cx="64.10" cy="197.20" r="1.4" fill="#000"/>
<circle cx="66.10" cy="199.20" r="1.4" fill="#000"/>
<circle cx="66.60" cy="202.20" r="1.4" fill="#000"/>
<circle cx="68.70" cy="196.10" r="1.4" fill="#000"/>
<circle cx="69.20" cy="194.10" r="1.4" fill="#000"/>
<circle cx="70.20" cy="197.70" r="1.4" fill="#000"/>
<circle cx="71.20" cy="193.10" r="1.4" fill="#000"/>
<circle cx="71.70" cy="196.10" r="1.4" fill="#000"/>
<circle cx="72.70" cy="199.70" r="1.4" fill="#000"/>
<circle cx="74.20" cy="201.20" r="1.4" fill="#000"/>
<circle cx="75.70" cy="202.00" r="1.4" fill="#000"/>
<circle cx="76.70" cy="202.70" r="1.4" fill="#000"/>
<circle cx="70.70" cy="201.70" r="1.4" fill="#000"/>
<circle cx="68.70" cy="200.70" r="1.4" fill="#000"/>
<circle cx="62.60" cy="201.70" r="1.4" fill="#000"/>
<circle cx="65.10" cy="201.70" r="1.4" fill="#000"/>
<circle cx="72.70" cy="194.60" r="1.4" fill="#000"/>
<circle cx="67.00" cy="195.00" r="1.4" fill="#000"/>
<circle cx="63.00" cy="199.00" r="1.4" fill="#000"/>
<circle cx="66.00" cy="196.50" r="1.4" fill="#000"/>
<circle cx="73.50" cy="197.50" r="1.4" fill="#000"/>
<circle cx="69.50" cy="199.00" r="1.4" fill="#000"/>
<circle cx="60.50" cy="202.00" r="1.4" fill="#000"/>
<circle cx="64.00" cy="202.50" r="1.4" fill="#000"/>
<circle cx="73.00" cy="203.00" r="1.4" fill="#000"/>
<line x1="247.80" y1="196.30" x2="309.60" y2="169.10" stroke="#111" stroke-width="1.0"/>
<circle cx="288.40" cy="145.00" r="1.4" fill="#000"/>
<circle cx="268.50" cy="150.80" r="1.4" fill="#000"/>
<circle cx="309.50" cy="166.60" r="1.4" fill="#000"/>
<circle cx="260.80" cy="170.60" r="1.4" fill="#000"/>
<circle cx="261.80" cy="171.40" r="1.4" fill="#000"/>
<circle cx="257.10" cy="175.50" r="1.4" fill="#000"/>
<circle cx="258.10" cy="178.90" r="1.4" fill="#000"/>
<circle cx="257.10" cy="182.10" r="1.4" fill="#000"/>
<circle cx="239.90" cy="180.60" r="1.4" fill="#000"/>
<circle cx="268.90" cy="182.40" r="1.4" fill="#000"/>
<circle cx="243.00" cy="188.00" r="1.4" fill="#000"/>
<circle cx="248.20" cy="188.40" r="1.4" fill="#000"/>
<circle cx="243.70" cy="190.70" r="1.4" fill="#000"/>
<circle cx="265.40" cy="187.00" r="1.4" fill="#000"/>
<circle cx="270.40" cy="189.70" r="1.4" fill="#000"/>
<circle cx="272.40" cy="187.20" r="1.4" fill="#000"/>
<circle cx="262.30" cy="191.20" r="1.4" fill="#000"/>
<circle cx="262.80" cy="193.70" r="1.4" fill="#000"/>
<circle cx="254.80" cy="192.20" r="1.4" fill="#000"/>
<circle cx="256.30" cy="194.20" r="1.4" fill="#000"/>
<circle cx="240.60" cy="193.70" r="1.4" fill="#000"/>
<circle cx="245.70" cy="194.20" r="1.4" fill="#000"/>
<circle cx="275.50" cy="196.70" r="1.4" fill="#000"/>
<circle cx="262.80" cy="197.00" r="1.4" fill="#000"/>
<circle cx="258.30" cy="198.30" r="1.4" fill="#000"/>
<circle cx="253.30" cy="197.70" r="1.4" fill="#000"/>
<circle cx="252.20" cy="199.80" r="1.4" fill="#000"/>
<circle cx="266.40" cy="200.10" r="1.4" fill="#000"/>
<circle cx="263.80" cy="202.10" r="1.4" fill="#000"/>
<circle cx="255.30" cy="202.10" r="1.4" fill="#000"/>
<circle cx="306.50" cy="185.20" r="1.4" fill="#000"/>
<circle cx="289.40" cy="188.30" r="1.4" fill="#000"/>
<circle cx="284.70" cy="180.60" r="1.4" fill="#000"/>
<circle cx="281.30" cy="200.80" r="1.4" fill="#000"/>
<circle cx="241.10" cy="196.00" r="1.4" fill="#000"/>
<circle cx="245.30" cy="196.60" r="1.4" fill="#000"/>
<circle cx="249.10" cy="196.60" r="1.4" fill="#000"/>
<circle cx="253.90" cy="195.60" r="1.4" fill="#000"/>
<circle cx="252.60" cy="198.20" r="1.4" fill="#000"/>
<circle cx="235.92" cy="203.58" r="1.4" fill="#000"/>
<circle cx="238.52" cy="203.32" r="1.4" fill="#000"/>
<circle cx="242.33" cy="203.36" r="1.4" fill="#000"/>
<circle cx="245.63" cy="203.17" r="1.4" fill="#000"/>
<circle cx="248.98" cy="203.75" r="1.4" fill="#000"/>
<circle cx="251.71" cy="203.84" r="1.4" fill="#000"/>
<circle cx="237.32" cy="200.16" r="1.4" fill="#000"/>
<circle cx="241.18" cy="201.66" r="1.4" fill="#000"/>
<circle cx="243.75" cy="200.76" r="1.4" fill="#000"/>
<circle cx="247.29" cy="201.22" r="1.4" fill="#000"/>
<circle cx="249.86" cy="201.61" r="1.4" fill="#000"/>
<circle cx="239.37" cy="198.30" r="1.4" fill="#000"/>
<circle cx="242.30" cy="198.78" r="1.4" fill="#000"/>
<circle cx="246.07" cy="197.93" r="1.4" fill="#000"/>
<circle cx="248.57" cy="199.64" r="1.4" fill="#000"/>
<circle cx="244.30" cy="196.24" r="1.4" fill="#000"/>
<circle cx="247.19" cy="196.84" r="1.4" fill="#000"/>
<line x1="428.50" y1="168.60" x2="500.00" y2="194.60" stroke="#111" stroke-width="1.0"/>
<circle cx="455.50" cy="135.30" r="1.4" fill="#000"/>
<circle cx="473.00" cy="157.90" r="1.4" fill="#000"/>
<circle cx="433.20" cy="146.30" r="1.4" fill="#000"/>
<circle cx="437.40" cy="146.30" r="1.4" fill="#000"/>
<circle cx="443.30" cy="146.90" r="1.4" fill="#000"/>
<circle cx="432.20" cy="149.60" r="1.4" fill="#000"/>
<circle cx="434.20" cy="150.10" r="1.4" fill="#000"/>
<circle cx="435.20" cy="151.90" r="1.4" fill="#000"/>
<circle cx="439.20" cy="153.10" r="1.4" fill="#000"/>
<circle cx="441.70" cy="152.90" r="1.4" fill="#000"/>
<circle cx="428.60" cy="154.60" r="1.4" fill="#000"/>
<circle cx="430.10" cy="155.60" r="1.4" fill="#000"/>
<circle cx="433.20" cy="159.00" r="1.4" fill="#000"/>
<circle cx="437.70" cy="161.00" r="1.4" fill="#000"/>
<circle cx="439.20" cy="160.70" r="1.4" fill="#000"/>
<circle cx="430.10" cy="163.00" r="1.4" fill="#000"/>
<circle cx="429.90" cy="164.40" r="1.4" fill="#000"/>
<circle cx="447.10" cy="164.70" r="1.4" fill="#000"/>
<circle cx="430.60" cy="167.00" r="1.4" fill="#000"/>
<circle cx="437.40" cy="168.10" r="1.4" fill="#000"/>
<circle cx="427.60" cy="169.30" r="1.4" fill="#000"/>
<circle cx="429.10" cy="170.10" r="1.4" fill="#000"/>
<circle cx="432.20" cy="168.80" r="1.4" fill="#000"/>
<circle cx="433.20" cy="170.80" r="1.4" fill="#000"/>
<circle cx="447.30" cy="170.80" r="1.4" fill="#000"/>
<circle cx="449.30" cy="172.10" r="1.4" fill="#000"/>
<circle cx="456.90" cy="172.10" r="1.4" fill="#000"/>
<circle cx="461.90" cy="170.10" r="1.4" fill="#000"/>
<circle cx="467.00" cy="170.10" r="1.4" fill="#000"/>
<circle cx="436.70" cy="175.30" r="1.4" fill="#000"/>
<circle cx="428.10" cy="170.50" r="1.4" fill="#000"/>
<circle cx="441.00" cy="172.50" r="1.4" fill="#000"/>
<circle cx="450.30" cy="173.80" r="1.4" fill="#000"/>
<circle cx="434.70" cy="176.90" r="1.4" fill="#000"/>
<circle cx="437.20" cy="176.60" r="1.4" fill="#000"/>
<circle cx="438.00" cy="178.10" r="1.4" fill="#000"/>
<circle cx="443.80" cy="175.90" r="1.4" fill="#000"/>
<circle cx="434.70" cy="179.10" r="1.4" fill="#000"/>
<circle cx="431.10" cy="179.90" r="1.4" fill="#000"/>
<circle cx="437.20" cy="180.60" r="1.4" fill="#000"/>
<circle cx="434.20" cy="182.10" r="1.4" fill="#000"/>
<circle cx="454.20" cy="177.10" r="1.4" fill="#000"/>
<circle cx="453.80" cy="182.10" r="1.4" fill="#000"/>
<circle cx="454.40" cy="183.10" r="1.4" fill="#000"/>
<circle cx="457.90" cy="183.90" r="1.4" fill="#000"/>
<circle cx="464.20" cy="181.90" r="1.4" fill="#000"/>
<circle cx="439.70" cy="185.30" r="1.4" fill="#000"/>
<circle cx="430.10" cy="186.60" r="1.4" fill="#000"/>
<circle cx="432.70" cy="188.70" r="1.4" fill="#000"/>
<circle cx="434.70" cy="187.70" r="1.4" fill="#000"/>
<circle cx="436.70" cy="187.20" r="1.4" fill="#000"/>
<circle cx="438.70" cy="186.60" r="1.4" fill="#000"/>
<circle cx="430.60" cy="191.70" r="1.4" fill="#000"/>
<circle cx="460.40" cy="191.20" r="1.4" fill="#000"/>
<circle cx="446.30" cy="190.00" r="1.4" fill="#000"/>
<circle cx="448.80" cy="191.70" r="1.4" fill="#000"/>
<circle cx="445.30" cy="193.70" r="1.4" fill="#000"/>
<circle cx="444.80" cy="195.00" r="1.4" fill="#000"/>
<circle cx="449.80" cy="194.70" r="1.4" fill="#000"/>
<circle cx="441.00" cy="195.00" r="1.4" fill="#000"/>
<circle cx="447.80" cy="196.20" r="1.4" fill="#000"/>
<circle cx="452.80" cy="197.20" r="1.4" fill="#000"/>
<circle cx="448.80" cy="198.30" r="1.4" fill="#000"/>
<circle cx="501.20" cy="197.70" r="1.4" fill="#000"/>
<circle cx="498.40" cy="194.20" r="1.4" fill="#000"/>
<circle cx="481.00" cy="190.60" r="1.4" fill="#000"/>
<circle cx="480.00" cy="194.70" r="1.4" fill="#000"/>
<circle cx="476.00" cy="187.60" r="1.4" fill="#000"/>
<circle cx="430.20" cy="170.40" r="1.4" fill="#000"/>
<polygon points="84.15,284.00 87.05,284.00 85.60,281.39" fill="#000"/>
<polygon points="84.15,291.11 87.05,291.11 85.60,288.50" fill="#000"/>
<polygon points="84.35,296.41 87.25,296.41 85.80,293.80" fill="#000"/>
<polygon points="84.35,302.41 87.25,302.41 85.80,299.80" fill="#000"/>
<polygon points="84.35,306.61 87.25,306.61 85.80,304.00" fill="#000"/>
<polygon points="83.15,309.91 86.05,309.91 84.60,307.30" fill="#000"/>
<polygon points="75.55,312.91 78.45,312.91 77.00,310.30" fill="#000"/>
<polygon points="80.55,312.91 83.45,312.91 82.00,310.30" fill="#000"/>
<polygon points="86.15,312.91 89.05,312.91 87.60,310.30" fill="#000"/>
<polygon points="90.75,312.91 93.65,312.91 92.20,310.30" fill="#000"/>
<polygon points="75.35,315.61 78.25,315.61 76.80,313.00" fill="#000"/>
<polygon points="79.35,315.61 82.25,315.61 80.80,313.00" fill="#000"/>
<polygon points="83.45,315.61 86.35,315.61 84.90,313.00" fill="#000"/>
<polygon points="87.55,315.61 90.45,315.61 89.00,313.00" fill="#000"/>
<polygon points="91.55,315.61 94.45,315.61 93.00,313.00" fill="#000"/>
<polygon points="75.15,318.31 78.05,318.31 76.60,315.69" fill="#000"/>
<polygon points="78.35,318.31 81.25,318.31 79.80,315.69" fill="#000"/>
<polygon points="82.15,318.31 85.05,318.31 83.60,315.69" fill="#000"/>
<polygon points="85.95,318.31 88.85,318.31 87.40,315.69" fill="#000"/>
<polygon points="89.75,318.31 92.65,318.31 91.20,315.69" fill="#000"/>
<polygon points="93.35,318.31 96.25,318.31 94.80,315.69" fill="#000"/>
<polygon points="75.15,321.11 78.05,321.11 76.60,318.50" fill="#000"/>
<polygon points="77.85,321.11 80.75,321.11 79.30,318.50" fill="#000"/>
<polygon points="80.55,321.11 83.45,321.11 82.00,318.50" fill="#000"/>
<polygon points="83.25,321.11 86.15,321.11 84.70,318.50" fill="#000"/>
<polygon points="85.95,321.11 88.85,321.11 87.40,318.50" fill="#000"/>
<polygon points="88.65,321.11 91.55,321.11 90.10,318.50" fill="#000"/>
<polygon points="91.35,321.11 94.25,321.11 92.80,318.50" fill="#000"/>
<polygon points="94.05,321.11 96.95,321.11 95.50,318.50" fill="#000"/>
<polygon points="75.15,323.81 78.05,323.81 76.60,321.19" fill="#000"/>
<polygon points="77.85,323.81 80.75,323.81 79.30,321.19" fill="#000"/>
<polygon points="80.55,323.81 83.45,323.81 82.00,321.19" fill="#000"/>
<polygon points="83.25,323.81 86.15,323.81 84.70,321.19" fill="#000"/>
<polygon points="85.95,323.81 88.85,323.81 87.40,321.19" fill="#000"/>
<polygon points="88.65,323.81 91.55,323.81 90.10,321.19" fill="#000"/>
<polygon points="91.35,323.81 94.25,323.81 92.80,321.19" fill="#000"/>
<polygon points="94.05,323.81 96.95,323.81 95.50,321.19" fill="#000"/>
<polygon points="64.45,326.50 67.35,326.50 65.90,323.89" fill="#000"/>
<polygon points="67.10,326.50 70.00,326.50 68.55,323.89" fill="#000"/>
<polygon points="69.75,326.50 72.65,326.50 71.20,323.89" fill="#000"/>
<polygon points="72.40,326.50 75.30,326.50 73.85,323.89" fill="#000"/>
<polygon points="75.05,326.50 77.95,326.50 76.50,323.89" fill="#000"/>
<polygon points="77.70,326.50 80.60,326.50 79.15,323.89" fill="#000"/>
<polygon points="80.35,326.50 83.25,326.50 81.80,323.89" fill="#000"/>
<polygon points="83.00,326.50 85.90,326.50 84.45,323.89" fill="#000"/>
<polygon points="85.65,326.50 88.55,326.50 87.10,323.89" fill="#000"/>
<polygon points="88.30,326.50 91.20,326.50 89.75,323.89" fill="#000"/>
<polygon points="90.95,326.50 93.85,326.50 92.40,323.89" fill="#000"/>
<polygon points="93.60,326.50 96.50,326.50 95.05,323.89" fill="#000"/>
<polygon points="96.25,326.50 99.15,326.50 97.70,323.89" fill="#000"/>
<polygon points="98.90,326.50 101.80,326.50 100.35,323.89" fill="#000"/>
<polygon points="101.55,326.50 104.45,326.50 103.00,323.89" fill="#000"/>
<polygon points="104.20,326.50 107.10,326.50 105.65,323.89" fill="#000"/>
<polygon points="64.45,329.20 67.35,329.20 65.90,326.59" fill="#000"/>
<polygon points="67.10,329.20 70.00,329.20 68.55,326.59" fill="#000"/>
<polygon points="69.75,329.20 72.65,329.20 71.20,326.59" fill="#000"/>
<polygon points="72.40,329.20 75.30,329.20 73.85,326.59" fill="#000"/>
<polygon points="75.05,329.20 77.95,329.20 76.50,326.59" fill="#000"/>
<polygon points="77.70,329.20 80.60,329.20 79.15,326.59" fill="#000"/>
<polygon points="80.35,329.20 83.25,329.20 81.80,326.59" fill="#000"/>
<polygon points="83.00,329.20 85.90,329.20 84.45,326.59" fill="#000"/>
<polygon points="85.65,329.20 88.55,329.20 87.10,326.59" fill="#000"/>
<polygon points="88.30,329.20 91.20,329.20 89.75,326.59" fill="#000"/>
<polygon points="90.95,329.20 93.85,329.20 92.40,326.59" fill="#000"/>
<polygon points="93.60,329.20 96.50,329.20 95.05,326.59" fill="#000"/>
<polygon points="96.25,329.20 99.15,329.20 97.70,326.59" fill="#000"/>
<polygon points="98.90,329.20 101.80,329.20 100.35,326.59" fill="#000"/>
<polygon points="101.55,329.20 104.45,329.20 103.00,326.59" fill="#000"/>
<polygon points="104.20,329.20 107.10,329.20 105.65,326.59" fill="#000"/>
<polygon points="67.05,331.91 69.95,331.91 68.50,329.30" fill="#000"/>
<polygon points="69.70,331.91 72.60,331.91 71.15,329.30" fill="#000"/>
<polygon points="72.35,331.91 75.25,331.91 73.80,329.30" fill="#000"/>
<polygon points="75.00,331.91 77.90,331.91 76.45,329.30" fill="#000"/>
<polygon points="77.65,331.91 80.55,331.91 79.10,329.30" fill="#000"/>
<polygon points="80.30,331.91 83.20,331.91 81.75,329.30" fill="#000"/>
<polygon points="82.95,331.91 85.85,331.91 84.40,329.30" fill="#000"/>
<polygon points="85.60,331.91 88.50,331.91 87.05,329.30" fill="#000"/>
<polygon points="88.25,331.91 91.15,331.91 89.70,329.30" fill="#000"/>
<polygon points="90.90,331.91 93.80,331.91 92.35,329.30" fill="#000"/>
<polygon points="93.55,331.91 96.45,331.91 95.00,329.30" fill="#000"/>
<polygon points="96.20,331.91 99.10,331.91 97.65,329.30" fill="#000"/>
<polygon points="98.85,331.91 101.75,331.91 100.30,329.30" fill="#000"/>
<polygon points="101.50,331.91 104.40,331.91 102.95,329.30" fill="#000"/>
<polygon points="72.55,334.50 75.45,334.50 74.00,331.89" fill="#000"/>
<polygon points="77.05,334.50 79.95,334.50 78.50,331.89" fill="#000"/>
<polygon points="79.75,334.50 82.65,334.50 81.20,331.89" fill="#000"/>
<polygon points="84.55,334.50 87.45,334.50 86.00,331.89" fill="#000"/>
<polygon points="88.55,334.50 91.45,334.50 90.00,331.89" fill="#000"/>
<polygon points="80.55,336.91 83.45,336.91 82.00,334.30" fill="#000"/>
<polygon points="142.75,279.59 145.65,279.59 144.20,282.20" fill="#000"/>
<polygon points="148.15,278.69 151.05,278.69 149.60,281.31" fill="#000"/>
<polygon points="145.55,293.69 148.45,293.69 147.00,296.31" fill="#000"/>
<polygon points="145.55,296.89 148.45,296.89 147.00,299.50" fill="#000"/>
<polygon points="145.55,305.50 148.45,305.50 147.00,308.11" fill="#000"/>
<polygon points="142.75,309.50 145.65,309.50 144.20,312.11" fill="#000"/>
<polygon points="148.15,308.30 151.05,308.30 149.60,310.91" fill="#000"/>
<polygon points="143.15,319.00 146.05,319.00 144.60,321.61" fill="#000"/>
<polygon points="148.15,316.39 151.05,316.39 149.60,319.00" fill="#000"/>
<polygon points="142.75,325.09 145.65,325.09 144.20,327.70" fill="#000"/>
<polygon points="148.15,325.09 151.05,325.09 149.60,327.70" fill="#000"/>
<circle cx="259.10" cy="281.50" r="1.4" fill="#000"/>
<circle cx="263.10" cy="280.50" r="1.4" fill="#000"/>
<circle cx="259.30" cy="294.20" r="1.4" fill="#000"/>
<circle cx="263.10" cy="297.80" r="1.4" fill="#000"/>
<circle cx="259.20" cy="299.90" r="1.4" fill="#000"/>
<circle cx="259.20" cy="303.60" r="1.4" fill="#000"/>
<circle cx="255.50" cy="307.70" r="1.4" fill="#000"/>
<circle cx="259.20" cy="309.80" r="1.4" fill="#000"/>
<circle cx="240.00" cy="324.13" r="1.4" fill="#000"/>
<circle cx="240.00" cy="328.67" r="1.4" fill="#000"/>
<circle cx="244.00" cy="324.13" r="1.4" fill="#000"/>
<circle cx="244.00" cy="328.67" r="1.4" fill="#000"/>
<circle cx="247.60" cy="324.13" r="1.4" fill="#000"/>
<circle cx="247.60" cy="328.67" r="1.4" fill="#000"/>
<circle cx="247.60" cy="330.69" r="1.4" fill="#000"/>
<circle cx="251.60" cy="316.56" r="1.4" fill="#000"/>
<circle cx="251.60" cy="320.09" r="1.4" fill="#000"/>
<circle cx="251.60" cy="324.13" r="1.4" fill="#000"/>
<circle cx="251.60" cy="328.67" r="1.4" fill="#000"/>
<circle cx="255.70" cy="317.57" r="1.4" fill="#000"/>
<circle cx="255.70" cy="320.09" r="1.4" fill="#000"/>
<circle cx="255.70" cy="324.13" r="1.4" fill="#000"/>
<circle cx="255.70" cy="326.65" r="1.4" fill="#000"/>
<circle cx="255.70" cy="330.69" r="1.4" fill="#000"/>
<circle cx="259.20" cy="313.53" r="1.4" fill="#000"/>
<circle cx="259.20" cy="317.57" r="1.4" fill="#000"/>
<circle cx="259.20" cy="324.13" r="1.4" fill="#000"/>
<circle cx="259.20" cy="326.15" r="1.4" fill="#000"/>
<circle cx="259.20" cy="330.69" r="1.4" fill="#000"/>
<circle cx="263.30" cy="314.04" r="1.4" fill="#000"/>
<circle cx="263.30" cy="316.56" r="1.4" fill="#000"/>
<circle cx="263.30" cy="320.09" r="1.4" fill="#000"/>
<circle cx="263.30" cy="324.13" r="1.4" fill="#000"/>
<circle cx="263.30" cy="326.65" r="1.4" fill="#000"/>
<circle cx="263.30" cy="328.67" r="1.4" fill="#000"/>
<circle cx="263.30" cy="332.20" r="1.4" fill="#000"/>
<circle cx="267.10" cy="319.08" r="1.4" fill="#000"/>
<circle cx="267.10" cy="322.11" r="1.4" fill="#000"/>
<circle cx="267.10" cy="324.13" r="1.4" fill="#000"/>
<circle cx="267.10" cy="326.15" r="1.4" fill="#000"/>
<circle cx="267.10" cy="328.67" r="1.4" fill="#000"/>
<circle cx="267.10" cy="330.69" r="1.4" fill="#000"/>
<circle cx="270.80" cy="322.11" r="1.4" fill="#000"/>
<circle cx="270.80" cy="324.13" r="1.4" fill="#000"/>
<circle cx="270.80" cy="326.15" r="1.4" fill="#000"/>
<circle cx="270.80" cy="328.67" r="1.4" fill="#000"/>
<circle cx="270.80" cy="330.69" r="1.4" fill="#000"/>
<circle cx="274.90" cy="324.13" r="1.4" fill="#000"/>
<circle cx="274.90" cy="326.15" r="1.4" fill="#000"/>
<circle cx="274.90" cy="328.67" r="1.4" fill="#000"/>
<circle cx="278.40" cy="324.13" r="1.4" fill="#000"/>
<circle cx="278.40" cy="328.67" r="1.4" fill="#000"/>
<rect x="319.15" y="277.65" width="2.7" height="2.7" fill="#000"/>
<rect x="319.15" y="287.15" width="2.7" height="2.7" fill="#000"/>
<rect x="319.15" y="293.05" width="2.7" height="2.7" fill="#000"/>
<rect x="319.35" y="304.95" width="2.7" height="2.7" fill="#000"/>
<rect x="307.25" y="307.25" width="2.7" height="2.7" fill="#000"/>
<rect x="307.25" y="309.25" width="2.7" height="2.7" fill="#000"/>
<rect x="307.25" y="311.25" width="2.7" height="2.7" fill="#000"/>
<rect x="307.25" y="313.25" width="2.7" height="2.7" fill="#000"/>
<rect x="311.75" y="307.75" width="2.7" height="2.7" fill="#000"/>
<rect x="311.75" y="311.25" width="2.7" height="2.7" fill="#000"/>
<rect x="311.75" y="316.85" width="2.7" height="2.7" fill="#000"/>
<rect x="311.75" y="318.85" width="2.7" height="2.7" fill="#000"/>
<rect x="316.85" y="308.75" width="2.7" height="2.7" fill="#000"/>
<rect x="316.85" y="311.25" width="2.7" height="2.7" fill="#000"/>
<rect x="316.85" y="315.25" width="2.7" height="2.7" fill="#000"/>
<rect x="316.85" y="319.85" width="2.7" height="2.7" fill="#000"/>
<rect x="316.85" y="323.85" width="2.7" height="2.7" fill="#000"/>
<rect x="316.85" y="325.85" width="2.7" height="2.7" fill="#000"/>
<rect x="321.85" y="311.75" width="2.7" height="2.7" fill="#000"/>
<rect x="321.85" y="313.75" width="2.7" height="2.7" fill="#000"/>
<rect x="321.85" y="317.35" width="2.7" height="2.7" fill="#000"/>
<rect x="321.85" y="320.85" width="2.7" height="2.7" fill="#000"/>
<rect x="321.85" y="323.85" width="2.7" height="2.7" fill="#000"/>
<rect x="321.85" y="325.85" width="2.7" height="2.7" fill="#000"/>
<rect x="321.85" y="327.95" width="2.7" height="2.7" fill="#000"/>
<rect x="319.35" y="330.95" width="2.7" height="2.7" fill="#000"/>
<rect x="326.95" y="309.25" width="2.7" height="2.7" fill="#000"/>
<rect x="326.95" y="311.25" width="2.7" height="2.7" fill="#000"/>
<rect x="326.95" y="316.85" width="2.7" height="2.7" fill="#000"/>
<rect x="326.95" y="323.85" width="2.7" height="2.7" fill="#000"/>
<rect x="331.75" y="308.75" width="2.7" height="2.7" fill="#000"/>
<rect x="331.75" y="313.25" width="2.7" height="2.7" fill="#000"/>
<rect x="331.75" y="325.85" width="2.7" height="2.7" fill="#000"/>
<rect x="307.25" y="322.85" width="2.7" height="2.7" fill="#000"/>
<rect x="311.75" y="325.85" width="2.7" height="2.7" fill="#000"/>
<circle cx="444.80" cy="280.50" r="1.4" fill="#000"/>
<circle cx="444.80" cy="287.50" r="1.4" fill="#000"/>
<circle cx="444.80" cy="296.60" r="1.4" fill="#000"/>
<circle cx="439.90" cy="306.90" r="1.4" fill="#000"/>
<circle cx="449.70" cy="305.00" r="1.4" fill="#000"/>
<circle cx="445.00" cy="309.30" r="1.4" fill="#000"/>
<circle cx="449.70" cy="308.90" r="1.4" fill="#000"/>
<circle cx="435.10" cy="311.30" r="1.4" fill="#000"/>
<circle cx="454.80" cy="312.30" r="1.4" fill="#000"/>
<circle cx="439.90" cy="312.90" r="1.4" fill="#000"/>
<circle cx="445.00" cy="313.60" r="1.4" fill="#000"/>
<circle cx="449.70" cy="313.10" r="1.4" fill="#000"/>
<circle cx="439.90" cy="315.60" r="1.4" fill="#000"/>
<circle cx="439.90" cy="318.40" r="1.4" fill="#000"/>
<circle cx="445.00" cy="317.40" r="1.4" fill="#000"/>
<circle cx="445.00" cy="319.70" r="1.4" fill="#000"/>
<circle cx="449.70" cy="317.70" r="1.4" fill="#000"/>
<circle cx="439.90" cy="324.20" r="1.4" fill="#000"/>
<circle cx="445.00" cy="323.40" r="1.4" fill="#000"/>
<circle cx="449.70" cy="324.00" r="1.4" fill="#000"/>
<circle cx="445.00" cy="321.70" r="1.4" fill="#000"/>
<line x1="471.30" y1="326.30" x2="500.50" y2="326.30" stroke="#111" stroke-width="1"/>
<rect x="483.20" y="277.30" width="2.6" height="2.6" fill="#000"/>
<rect x="485.50" y="277.60" width="2.6" height="2.6" fill="#000"/>
<rect x="483.20" y="291.70" width="2.6" height="2.6" fill="#000"/>
<rect x="485.50" y="291.30" width="2.6" height="2.6" fill="#000"/>
<rect x="484.50" y="297.30" width="2.6" height="2.6" fill="#000"/>
<rect x="483.00" y="307.90" width="2.6" height="2.6" fill="#000"/>
<rect x="483.00" y="310.30" width="2.6" height="2.6" fill="#000"/>
<rect x="485.90" y="310.50" width="2.6" height="2.6" fill="#000"/>
<rect x="482.70" y="312.70" width="2.6" height="2.6" fill="#000"/>
<rect x="486.10" y="312.90" width="2.6" height="2.6" fill="#000"/>
<rect x="479.50" y="315.10" width="2.6" height="2.6" fill="#000"/>
<rect x="482.30" y="314.90" width="2.6" height="2.6" fill="#000"/>
<rect x="486.10" y="315.30" width="2.6" height="2.6" fill="#000"/>
<rect x="488.90" y="314.70" width="2.6" height="2.6" fill="#000"/>
<rect x="479.50" y="317.50" width="2.6" height="2.6" fill="#000"/>
<rect x="482.50" y="317.30" width="2.6" height="2.6" fill="#000"/>
<rect x="486.10" y="317.70" width="2.6" height="2.6" fill="#000"/>
<rect x="489.30" y="317.30" width="2.6" height="2.6" fill="#000"/>
<rect x="479.90" y="319.70" width="2.6" height="2.6" fill="#000"/>
<rect x="483.00" y="319.90" width="2.6" height="2.6" fill="#000"/>
<rect x="486.30" y="319.70" width="2.6" height="2.6" fill="#000"/>
<rect x="489.70" y="319.90" width="2.6" height="2.6" fill="#000"/>
<rect x="483.80" y="332.10" width="2.6" height="2.6" fill="#000"/>
<rect x="473.36" y="321.18" width="2.6" height="2.6" fill="#000"/>
<rect x="475.56" y="321.37" width="2.6" height="2.6" fill="#000"/>
<rect x="478.47" y="321.45" width="2.6" height="2.6" fill="#000"/>
<rect x="480.98" y="321.24" width="2.6" height="2.6" fill="#000"/>
<rect x="483.07" y="321.62" width="2.6" height="2.6" fill="#000"/>
<rect x="486.01" y="321.46" width="2.6" height="2.6" fill="#000"/>
<rect x="487.98" y="321.20" width="2.6" height="2.6" fill="#000"/>
<rect x="490.72" y="321.25" width="2.6" height="2.6" fill="#000"/>
<rect x="493.45" y="321.77" width="2.6" height="2.6" fill="#000"/>
<rect x="495.45" y="321.32" width="2.6" height="2.6" fill="#000"/>
<rect x="471.75" y="323.61" width="2.6" height="2.6" fill="#000"/>
<rect x="474.25" y="323.38" width="2.6" height="2.6" fill="#000"/>
<rect x="476.20" y="323.33" width="2.6" height="2.6" fill="#000"/>
<rect x="479.24" y="323.32" width="2.6" height="2.6" fill="#000"/>
<rect x="481.38" y="323.43" width="2.6" height="2.6" fill="#000"/>
<rect x="483.94" y="323.43" width="2.6" height="2.6" fill="#000"/>
<rect x="486.84" y="323.22" width="2.6" height="2.6" fill="#000"/>
<rect x="488.60" y="323.85" width="2.6" height="2.6" fill="#000"/>
<rect x="491.80" y="323.89" width="2.6" height="2.6" fill="#000"/>
<rect x="493.95" y="323.86" width="2.6" height="2.6" fill="#000"/>
<rect x="496.84" y="323.28" width="2.6" height="2.6" fill="#000"/>
<rect x="498.40" y="323.77" width="2.6" height="2.6" fill="#000"/>
<rect x="471.13" y="325.52" width="2.6" height="2.6" fill="#000"/>
<rect x="473.33" y="325.37" width="2.6" height="2.6" fill="#000"/>
<rect x="475.78" y="325.15" width="2.6" height="2.6" fill="#000"/>
<rect x="478.57" y="325.33" width="2.6" height="2.6" fill="#000"/>
<rect x="481.25" y="325.14" width="2.6" height="2.6" fill="#000"/>
<rect x="483.82" y="325.65" width="2.6" height="2.6" fill="#000"/>
<rect x="486.34" y="325.82" width="2.6" height="2.6" fill="#000"/>
<rect x="488.82" y="325.56" width="2.6" height="2.6" fill="#000"/>
<rect x="490.61" y="325.70" width="2.6" height="2.6" fill="#000"/>
<rect x="493.24" y="325.34" width="2.6" height="2.6" fill="#000"/>
<rect x="496.13" y="325.52" width="2.6" height="2.6" fill="#000"/>
<rect x="498.43" y="325.85" width="2.6" height="2.6" fill="#000"/>
<rect x="471.59" y="327.37" width="2.6" height="2.6" fill="#000"/>
<rect x="473.80" y="327.79" width="2.6" height="2.6" fill="#000"/>
<rect x="476.48" y="327.73" width="2.6" height="2.6" fill="#000"/>
<rect x="478.88" y="327.26" width="2.6" height="2.6" fill="#000"/>
<rect x="481.53" y="327.75" width="2.6" height="2.6" fill="#000"/>
<rect x="483.74" y="327.73" width="2.6" height="2.6" fill="#000"/>
<rect x="486.84" y="327.74" width="2.6" height="2.6" fill="#000"/>
<rect x="489.26" y="327.11" width="2.6" height="2.6" fill="#000"/>
<rect x="491.60" y="327.79" width="2.6" height="2.6" fill="#000"/>
<rect x="493.64" y="327.32" width="2.6" height="2.6" fill="#000"/>
<rect x="496.31" y="327.52" width="2.6" height="2.6" fill="#000"/>
<rect x="497.84" y="327.48" width="2.6" height="2.6" fill="#000"/>
<rect x="473.92" y="328.90" width="2.6" height="2.6" fill="#000"/>
<rect x="475.84" y="329.00" width="2.6" height="2.6" fill="#000"/>
<rect x="478.40" y="328.95" width="2.6" height="2.6" fill="#000"/>
<rect x="481.58" y="329.58" width="2.6" height="2.6" fill="#000"/>
<rect x="483.37" y="329.30" width="2.6" height="2.6" fill="#000"/>
<rect x="486.05" y="329.15" width="2.6" height="2.6" fill="#000"/>
<rect x="488.58" y="329.42" width="2.6" height="2.6" fill="#000"/>
<rect x="491.27" y="329.19" width="2.6" height="2.6" fill="#000"/>
<rect x="493.95" y="329.16" width="2.6" height="2.6" fill="#000"/>
<polygon points="516.00,323.76 518.80,323.76 517.40,321.24" fill="#000"/>
<polygon points="519.30,323.76 522.10,323.76 520.70,321.24" fill="#000"/>
<polygon points="522.40,323.76 525.20,323.76 523.80,321.24" fill="#000"/>
<polygon points="528.40,322.86 531.20,322.86 529.80,320.34" fill="#000"/>
<polygon points="531.40,322.36 534.20,322.36 532.80,319.84" fill="#000"/>
<polygon points="515.80,325.76 518.60,325.76 517.20,323.24" fill="#000"/>
<polygon points="531.90,325.76 534.70,325.76 533.30,323.24" fill="#000"/>
<polygon points="534.50,325.76 537.30,325.76 535.90,323.24" fill="#000"/>
<polygon points="512.80,328.86 515.60,328.86 514.20,326.34" fill="#000"/>
<polygon points="518.80,328.86 521.60,328.86 520.20,326.34" fill="#000"/>
<polygon points="525.40,328.86 528.20,328.86 526.80,326.34" fill="#000"/>
<polygon points="528.40,328.86 531.20,328.86 529.80,326.34" fill="#000"/>
<polygon points="531.90,328.86 534.70,328.86 533.30,326.34" fill="#000"/>
<polygon points="535.00,328.86 537.80,328.86 536.40,326.34" fill="#000"/>
<polygon points="538.00,328.86 540.80,328.86 539.40,326.34" fill="#000"/>
<polygon points="515.30,331.06 518.10,331.06 516.70,328.54" fill="#000"/>
<polygon points="522.40,331.06 525.20,331.06 523.80,328.54" fill="#000"/>
<polygon points="525.70,331.06 528.50,331.06 527.10,328.54" fill="#000"/>
<polygon points="528.70,331.06 531.50,331.06 530.10,328.54" fill="#000"/>
<polygon points="531.40,331.06 534.20,331.06 532.80,328.54" fill="#000"/>
<polygon points="534.50,331.06 537.30,331.06 535.90,328.54" fill="#000"/>
<polygon points="537.50,331.06 540.30,331.06 538.90,328.54" fill="#000"/>
<polygon points="522.40,332.96 525.20,332.96 523.80,330.44" fill="#000"/>
<polygon points="528.40,332.96 531.20,332.96 529.80,330.44" fill="#000"/>
<polygon points="522.10,326.76 524.90,326.76 523.50,324.24" fill="#000"/>
<polygon points="525.10,326.76 527.90,326.76 526.50,324.24" fill="#000"/>
<polygon points="528.40,326.56 531.20,326.56 529.80,324.04" fill="#000"/>
</svg>
</body></html>
